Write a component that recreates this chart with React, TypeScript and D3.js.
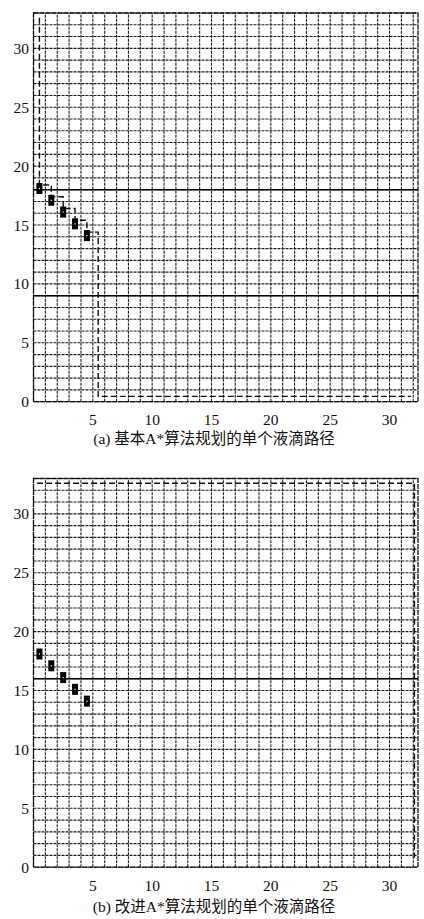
import React from "react";
import * as d3 from "d3";

// ---- data ----
const xTicks = [5, 10, 15, 20, 25, 30];
const yTicks = [0, 5, 10, 15, 20, 25, 30];
const gridX = d3.range(0, 33); // vertical grid lines at integer columns
const gridY = d3.range(0, 34); // horizontal grid lines at integer rows
const dropletX = [0.5, 1.5, 2.5, 3.5, 4.5];
const dropletY = [18.1, 17.1, 16.1, 15.1, 14.1];
const pathAX = [0.5, 0.5, 1.5, 1.5, 2.5, 2.5, 3.5, 3.5, 4.5, 4.5, 5.45, 5.45, 31.8];
const pathAY = [32.6, 18.4, 18.4, 17.4, 17.4, 16.4, 16.4, 15.4, 15.4, 14.4, 14.4, 0.45, 0.45];
const pathBX = [0.3, 32.1, 32.1];
const pathBY = [32.6, 32.6, 0.8];
const boldA = [18, 9];
const boldB = [16];
const captionA = "(a) 基本A*算法规划的单个液滴路径";
const captionB = "(b) 改进A*算法规划的单个液滴路径";

const X_MAX = 32.4;
const Y_MAX = 33;
const W = 424;
const H = 919;

type PanelProps = {
  offset: number;
  px: number[];
  py: number[];
  bold: number[];
  caption: string;
  captionY: number;
};

function Panel({ offset, px, py, bold, caption, captionY }: PanelProps) {
  const x = d3.scaleLinear().domain([0, X_MAX]).range([33.5, 418]);
  const y = d3.scaleLinear().domain([0, Y_MAX]).range([401.7 + offset, 13 + offset]);
  const pts: [number, number][] = px.map((v, i) => [v, py[i]]);
  const line = d3
    .line<[number, number]>()
    .x((d) => x(d[0]))
    .y((d) => y(d[1]));
  const serif = "'Liberation Serif','Times New Roman','Noto Sans CJK SC',serif";
  return (
    <g>
      {gridX.map((g) => (
        <line
          key={"vx" + g}
          x1={x(g)}
          x2={x(g)}
          y1={y(0)}
          y2={y(Y_MAX)}
          stroke="#1e1e1e"
          strokeWidth={1.1}
          strokeDasharray="3,1"
        />
      ))}
      {gridY.map((g) => (
        <line
          key={"hy" + g}
          x1={x(0)}
          x2={x(X_MAX)}
          y1={y(g)}
          y2={y(g)}
          stroke="#1e1e1e"
          strokeWidth={1.1}
          strokeDasharray="3,1"
        />
      ))}
      {bold.map((b) => (
        <line
          key={"b" + b}
          x1={x(0)}
          x2={x(X_MAX)}
          y1={y(b)}
          y2={y(b)}
          stroke="#000"
          strokeWidth={1.4}
        />
      ))}
      <rect
        x={x(0)}
        y={y(Y_MAX)}
        width={x(X_MAX) - x(0)}
        height={y(0) - y(Y_MAX)}
        fill="none"
        stroke="#111"
        strokeWidth={1.3}
        strokeDasharray="5,1"
      />
      <path
        d={line(pts) || ""}
        fill="none"
        stroke="#111"
        strokeWidth={1.4}
        strokeDasharray="6,3"
      />
      {dropletX.map((dx, i) => (
        <g key={"d" + i}>
          <rect
            x={x(dx) - 3}
            y={y(dropletY[i]) - 5.5}
            width={6}
            height={11}
            fill="#000"
          />
          <rect
            x={x(dx) - 0.6}
            y={y(dropletY[i]) - 0.6}
            width={1.2}
            height={1.2}
            fill="#fff"
          />
        </g>
      ))}
      {yTicks.map((t) => (
        <text
          key={"yt" + t}
          x={29}
          y={y(t)}
          textAnchor="end"
          dominantBaseline="central"
          fontFamily={serif}
          fontSize={15.5}
          fill="#111"
        >
          {t}
        </text>
      ))}
      {xTicks.map((t) => (
        <text
          key={"xt" + t}
          x={x(t)}
          y={y(0) + 18}
          textAnchor="middle"
          dominantBaseline="central"
          fontFamily={serif}
          fontSize={15.5}
          fill="#111"
        >
          {t}
        </text>
      ))}
      <text
        x={214}
        y={captionY}
        textAnchor="middle"
        dominantBaseline="central"
        fontFamily={serif}
        fontSize={15.5}
        fill="#111"
      >
        {caption}
      </text>
    </g>
  );
}

export default function App() {
  return (
    <svg
      width={W}
      height={H}
      style={{ position: "absolute", left: 0, top: 0, background: "#fff" }}
    >
      <rect x={0} y={0} width={W} height={H} fill="#fff" />
      <Panel offset={0} px={pathAX} py={pathAY} bold={boldA} caption={captionA} captionY={438} />
      <Panel offset={465.5} px={pathBX} py={pathBY} bold={boldB} caption={captionB} captionY={906} />
    </svg>
  );
}
